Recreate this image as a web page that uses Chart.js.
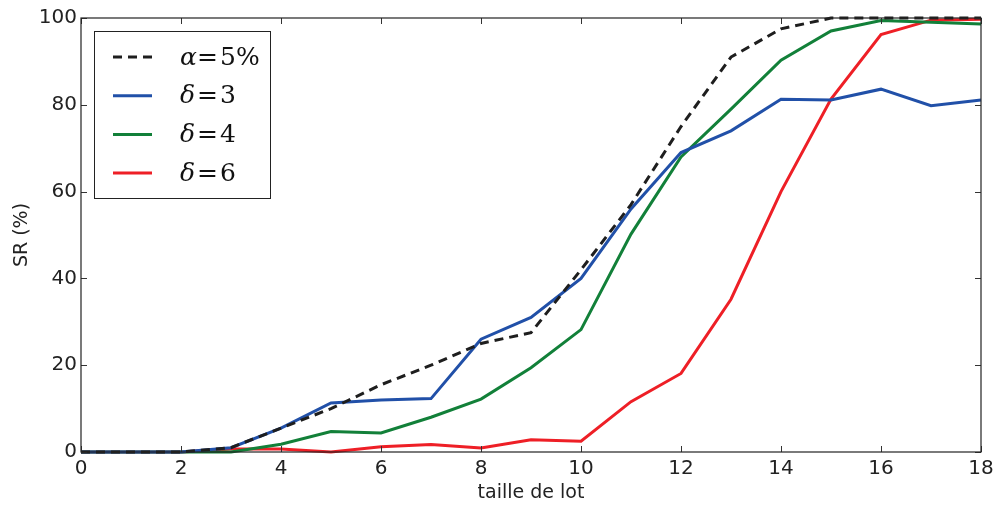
<!DOCTYPE html>
<html>
<head>
<meta charset="utf-8">
<script src="https://cdn.jsdelivr.net/npm/chart.js@4"></script>
<style>
  html, body { margin: 0; padding: 0; background: #fff; }
  #wrap { width: 1001px; height: 506px; }
</style>
</head>
<body>
<div id="wrap"><canvas id="chart"></canvas></div>
<script>
// taille de lot
const lotSizes = [0, 1, 2, 3, 4, 5, 6, 7, 8, 9, 10, 11, 12, 13, 14, 15, 16, 17, 18];

// SR (%) per series
const alpha5 = [0, 0, 0, 1, 5.5, 10, 15.5, 20, 25, 27.5, 42, 57, 75, 91, 97.5, 100, 100, 100, 100];
const delta3 = [0, 0, 0, 1, 5.5, 11.3, 12, 12.3, 26, 31, 40, 56, 69, 74, 81.3, 81.1, 83.6, 79.8, 81.1];
const delta4 = [0, 0, 0, 0, 1.8, 4.7, 4.4, 8, 12.2, 19.4, 28.2, 50.2, 68, 79, 90.3, 97, 99.4, 99, 98.6];
const delta6 = [0, 0, 0, 0.7, 0.7, 0, 1.2, 1.7, 0.9, 2.8, 2.5, 11.6, 18.1, 35.2, 60, 81.3, 96.2, 99.5, 99.7];

const xTicks = [0, 2, 4, 6, 8, 10, 12, 14, 16, 18];
const yTicks = [0, 20, 40, 60, 80, 100];

const toPoints = arr => arr.map((v, i) => ({ x: lotSizes[i], y: v }));

// legend labels: [italic greek, '=', value]
const legendParts = [['α', '=', '5%'], ['δ', '=', '3'], ['δ', '=', '4'], ['δ', '=', '6']];

const frameAndTicks = {
  id: 'frameAndTicks',
  afterDraw(chart) {
    const { ctx, chartArea: a, scales } = chart;
    ctx.save();
    ctx.strokeStyle = '#333';
    ctx.lineWidth = 1;
    // inward ticks on all four sides
    xTicks.forEach(t => {
      const px = Math.round(scales.x.getPixelForValue(t)) + 0.5;
      ctx.beginPath();
      ctx.moveTo(px, a.bottom); ctx.lineTo(px, a.bottom - 6);
      ctx.moveTo(px, a.top); ctx.lineTo(px, a.top + 6);
      ctx.stroke();
    });
    yTicks.forEach(t => {
      const py = Math.round(scales.y.getPixelForValue(t)) + 0.5;
      ctx.beginPath();
      ctx.moveTo(a.left, py); ctx.lineTo(a.left + 6, py);
      ctx.moveTo(a.right, py); ctx.lineTo(a.right - 6, py);
      ctx.stroke();
    });
    ctx.strokeStyle = '#222';
    ctx.lineWidth = 1.2;
    ctx.strokeRect(a.left, a.top, a.right - a.left, a.bottom - a.top);

    // legend box
    const bx = 94.5, by = 31.5, bw = 176, bh = 167;
    ctx.fillStyle = '#fff';
    ctx.fillRect(bx, by, bw, bh);
    ctx.strokeStyle = '#222';
    ctx.lineWidth = 1;
    ctx.strokeRect(bx, by, bw, bh);
    chart.data.datasets.forEach((ds, i) => {
      const y = 57 + i * 38.7;
      ctx.strokeStyle = ds.borderColor;
      ctx.lineWidth = 3;
      ctx.setLineDash(ds.borderDash || []);
      ctx.beginPath();
      ctx.moveTo(113, y); ctx.lineTo(152, y);
      ctx.stroke();
      ctx.setLineDash([]);
      const [g, eq, val] = legendParts[i];
      ctx.fillStyle = '#111';
      ctx.textBaseline = 'middle';
      ctx.font = 'italic 25px "DejaVu Serif"';
      ctx.fillText(g, 180, y + 1);
      ctx.font = '25px "DejaVu Serif"';
      ctx.fillText(eq, 197, y + 1);
      ctx.fillText(val, 220, y + 1);
    });
    ctx.restore();
  }
};

new Chart(document.getElementById('chart'), {
  type: 'line',
  data: {
    datasets: [
      { label: 'α=5%', data: toPoints(alpha5), borderColor: '#1e1e1e', borderDash: [9, 6], borderWidth: 3 },
      { label: 'δ=3', data: toPoints(delta3), borderColor: '#2150a8', borderWidth: 3 },
      { label: 'δ=4', data: toPoints(delta4), borderColor: '#128039', borderWidth: 3 },
      { label: 'δ=6', data: toPoints(delta6), borderColor: '#ee1f26', borderWidth: 3 }
    ]
  },
  options: {
    responsive: true,
    maintainAspectRatio: false,
    animation: false,
    clip: 4,
    elements: { point: { radius: 0 }, line: { tension: 0 } },
    layout: { padding: { top: 18, right: 20, left: 0, bottom: 0 } },
    plugins: { legend: { display: false }, tooltip: { enabled: false } },
    scales: {
      x: {
        type: 'linear',
        min: 0, max: 18,
        afterFit: s => { s.height = 54; },
        afterBuildTicks: s => { s.ticks = xTicks.map(v => ({ value: v })); },
        grid: { display: false, drawTicks: false },
        border: { display: false },
        ticks: { color: '#222', font: { family: 'DejaVu Sans', size: 20 }, padding: 5, maxRotation: 0 },
        title: { display: true, text: 'taille de lot', color: '#222', font: { family: 'DejaVu Sans', size: 19 }, padding: { top: 0, bottom: 2 } }
      },
      y: {
        min: 0, max: 100,
        afterFit: s => { s.width = 81; },
        afterBuildTicks: s => { s.ticks = yTicks.map(v => ({ value: v })); },
        grid: { display: false, drawTicks: false },
        border: { display: false },
        ticks: { color: '#222', font: { family: 'DejaVu Sans', size: 20 }, padding: 4 },
        title: { display: true, text: 'SR (%)', color: '#222', font: { family: 'DejaVu Sans', size: 19 }, padding: { top: 11, bottom: 0 } }
      }
    }
  },
  plugins: [frameAndTicks]
});
</script>
</body>
</html>
